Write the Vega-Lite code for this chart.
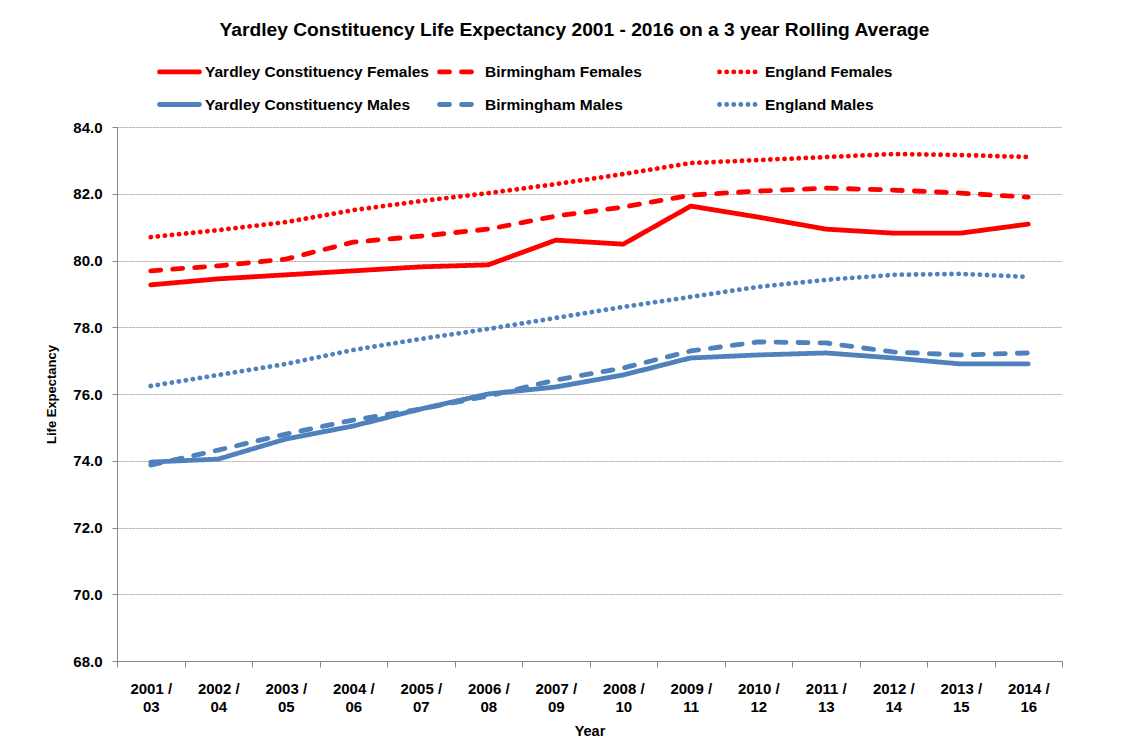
{
  "$schema": "https://vega.github.io/schema/vega-lite/v6.json",
  "width": 945,
  "height": 534,
  "autosize": {"type": "none"},
  "padding": {"left": 117, "top": 127, "right": 72, "bottom": 85},
  "background": "white",
  "title": {
    "text": "Yardley Constituency Life Expectancy 2001 - 2016 on a 3 year Rolling Average",
    "font": "Liberation Sans",
    "fontSize": 19.2,
    "fontWeight": "bold",
    "color": "black",
    "anchor": "middle",
    "frame": "group",
    "dx": -15,
    "offset": 9
  },
  "data": {
    "values": [
      {"period": "2001/03", "series": "Yardley Constituency Females", "value": 79.27},
      {"period": "2002/04", "series": "Yardley Constituency Females", "value": 79.45},
      {"period": "2003/05", "series": "Yardley Constituency Females", "value": 79.57},
      {"period": "2004/06", "series": "Yardley Constituency Females", "value": 79.69},
      {"period": "2005/07", "series": "Yardley Constituency Females", "value": 79.81},
      {"period": "2006/08", "series": "Yardley Constituency Females", "value": 79.87},
      {"period": "2007/09", "series": "Yardley Constituency Females", "value": 80.61},
      {"period": "2008/10", "series": "Yardley Constituency Females", "value": 80.49},
      {"period": "2009/11", "series": "Yardley Constituency Females", "value": 81.63},
      {"period": "2010/12", "series": "Yardley Constituency Females", "value": 81.30},
      {"period": "2011/13", "series": "Yardley Constituency Females", "value": 80.94},
      {"period": "2012/14", "series": "Yardley Constituency Females", "value": 80.82},
      {"period": "2013/15", "series": "Yardley Constituency Females", "value": 80.82},
      {"period": "2014/16", "series": "Yardley Constituency Females", "value": 81.09},

      {"period": "2001/03", "series": "Birmingham Females", "value": 79.69},
      {"period": "2002/04", "series": "Birmingham Females", "value": 79.84},
      {"period": "2003/05", "series": "Birmingham Females", "value": 80.04},
      {"period": "2004/06", "series": "Birmingham Females", "value": 80.55},
      {"period": "2005/07", "series": "Birmingham Females", "value": 80.73},
      {"period": "2006/08", "series": "Birmingham Females", "value": 80.94},
      {"period": "2007/09", "series": "Birmingham Females", "value": 81.33},
      {"period": "2008/10", "series": "Birmingham Females", "value": 81.60},
      {"period": "2009/11", "series": "Birmingham Females", "value": 81.96},
      {"period": "2010/12", "series": "Birmingham Females", "value": 82.08},
      {"period": "2011/13", "series": "Birmingham Females", "value": 82.17},
      {"period": "2012/14", "series": "Birmingham Females", "value": 82.11},
      {"period": "2013/15", "series": "Birmingham Females", "value": 82.02},
      {"period": "2014/16", "series": "Birmingham Females", "value": 81.90},

      {"period": "2001/03", "series": "England Females", "value": 80.70},
      {"period": "2002/04", "series": "England Females", "value": 80.91},
      {"period": "2003/05", "series": "England Females", "value": 81.15},
      {"period": "2004/06", "series": "England Females", "value": 81.51},
      {"period": "2005/07", "series": "England Females", "value": 81.78},
      {"period": "2006/08", "series": "England Females", "value": 82.02},
      {"period": "2007/09", "series": "England Females", "value": 82.29},
      {"period": "2008/10", "series": "England Females", "value": 82.59},
      {"period": "2009/11", "series": "England Females", "value": 82.92},
      {"period": "2010/12", "series": "England Females", "value": 83.01},
      {"period": "2011/13", "series": "England Females", "value": 83.10},
      {"period": "2012/14", "series": "England Females", "value": 83.19},
      {"period": "2013/15", "series": "England Females", "value": 83.16},
      {"period": "2014/16", "series": "England Females", "value": 83.10},

      {"period": "2001/03", "series": "Yardley Constituency Males", "value": 73.96},
      {"period": "2002/04", "series": "Yardley Constituency Males", "value": 74.05},
      {"period": "2003/05", "series": "Yardley Constituency Males", "value": 74.65},
      {"period": "2004/06", "series": "Yardley Constituency Males", "value": 75.04},
      {"period": "2005/07", "series": "Yardley Constituency Males", "value": 75.55},
      {"period": "2006/08", "series": "Yardley Constituency Males", "value": 76.00},
      {"period": "2007/09", "series": "Yardley Constituency Males", "value": 76.21},
      {"period": "2008/10", "series": "Yardley Constituency Males", "value": 76.57},
      {"period": "2009/11", "series": "Yardley Constituency Males", "value": 77.08},
      {"period": "2010/12", "series": "Yardley Constituency Males", "value": 77.17},
      {"period": "2011/13", "series": "Yardley Constituency Males", "value": 77.23},
      {"period": "2012/14", "series": "Yardley Constituency Males", "value": 77.08},
      {"period": "2013/15", "series": "Yardley Constituency Males", "value": 76.90},
      {"period": "2014/16", "series": "Yardley Constituency Males", "value": 76.90},

      {"period": "2001/03", "series": "Birmingham Males", "value": 73.87},
      {"period": "2002/04", "series": "Birmingham Males", "value": 74.32},
      {"period": "2003/05", "series": "Birmingham Males", "value": 74.80},
      {"period": "2004/06", "series": "Birmingham Males", "value": 75.22},
      {"period": "2005/07", "series": "Birmingham Males", "value": 75.55},
      {"period": "2006/08", "series": "Birmingham Males", "value": 75.94},
      {"period": "2007/09", "series": "Birmingham Males", "value": 76.42},
      {"period": "2008/10", "series": "Birmingham Males", "value": 76.78},
      {"period": "2009/11", "series": "Birmingham Males", "value": 77.29},
      {"period": "2010/12", "series": "Birmingham Males", "value": 77.56},
      {"period": "2011/13", "series": "Birmingham Males", "value": 77.53},
      {"period": "2012/14", "series": "Birmingham Males", "value": 77.26},
      {"period": "2013/15", "series": "Birmingham Males", "value": 77.17},
      {"period": "2014/16", "series": "Birmingham Males", "value": 77.23},

      {"period": "2001/03", "series": "England Males", "value": 76.24},
      {"period": "2002/04", "series": "England Males", "value": 76.57},
      {"period": "2003/05", "series": "England Males", "value": 76.90},
      {"period": "2004/06", "series": "England Males", "value": 77.32},
      {"period": "2005/07", "series": "England Males", "value": 77.65},
      {"period": "2006/08", "series": "England Males", "value": 77.95},
      {"period": "2007/09", "series": "England Males", "value": 78.28},
      {"period": "2008/10", "series": "England Males", "value": 78.61},
      {"period": "2009/11", "series": "England Males", "value": 78.91},
      {"period": "2010/12", "series": "England Males", "value": 79.21},
      {"period": "2011/13", "series": "England Males", "value": 79.42},
      {"period": "2012/14", "series": "England Males", "value": 79.57},
      {"period": "2013/15", "series": "England Males", "value": 79.60},
      {"period": "2014/16", "series": "England Males", "value": 79.51}
    ]
  },
  "mark": {"type": "line", "strokeCap": "round", "strokeJoin": "round"},
  "encoding": {
    "x": {
      "field": "period",
      "type": "ordinal",
      "sort": null,
      "scale": {"type": "band", "paddingInner": 0, "paddingOuter": 0},
      "axis": {
        "title": "Year",
        "labelAngle": 0,
        "tickBand": "extent",
        "grid": false,
        "labelExpr": "datum.value ? [substring(datum.value, 0, 4) + ' /', substring(datum.value, 5)] : ''",
        "labelLineHeight": 18,
        "labelPadding": 14,
        "tickSize": 6,
        "titlePadding": 10
      }
    },
    "y": {
      "field": "value",
      "type": "quantitative",
      "scale": {"domain": [68, 84], "nice": false, "zero": false},
      "axis": {
        "title": "Life Expectancy",
        "values": [68, 70, 72, 74, 76, 78, 80, 82, 84],
        "format": ".1f",
        "tickSize": 5,
        "labelPadding": 10,
        "titlePadding": 14
      }
    },
    "color": {
      "field": "series",
      "type": "nominal",
      "scale": {
        "domain": ["Yardley Constituency Females", "Yardley Constituency Males", "Birmingham Females", "Birmingham Males", "England Females", "England Males"],
        "range": ["#FF0000", "#4F81BD", "#FF0000", "#4F81BD", "#FF0000", "#4F81BD"]
      },
      "legend": {
        "title": null,
        "orient": "none",
        "legendX": 40,
        "legendY": -78,
        "columns": 3,
        "gridAlign": "all",
        "symbolType": "stroke",
        "symbolSize": 1600,
        "symbolStrokeWidth": 4,
        "labelOffset": 3,
        "columnPadding": 0,
        "rowPadding": -12,
        "labelFontSize": 15.5,
        "labelFont": "Liberation Sans",
        "labelFontWeight": "bold",
        "labelColor": "black",
        "labelLimit": 400,
        "encode": {"symbols": {"update": {"strokeCap": {"value": "round"}}}}
      }
    },
    "strokeDash": {
      "field": "series",
      "type": "nominal",
      "scale": {
        "domain": ["Yardley Constituency Females", "Yardley Constituency Males", "Birmingham Females", "Birmingham Males", "England Females", "England Males"],
        "range": [[1, 0], [1, 0], [10, 12], [10, 12], [0.1, 7], [0.1, 7]]
      }
    },
    "strokeWidth": {
      "field": "series",
      "type": "nominal",
      "scale": {
        "domain": ["Yardley Constituency Females", "Yardley Constituency Males", "Birmingham Females", "Birmingham Males", "England Females", "England Males"],
        "range": [4.8, 4.8, 4.5, 4.5, 3.5, 3.5]
      },
      "legend": null
    }
  },
  "config": {
    "view": {"stroke": null},
    "font": "Liberation Sans",
    "axis": {
      "labelFont": "Liberation Sans",
      "labelFontSize": 15,
      "labelFontWeight": "bold",
      "labelColor": "black",
      "titleFont": "Liberation Sans",
      "titleFontSize": 14.5,
      "titleFontWeight": "bold",
      "titleColor": "black",
      "domainColor": "#868686",
      "tickColor": "#868686",
      "gridColor": "#a6a6a6",
      "gridDash": [2, 1],
      "gridWidth": 1
    },
    "axisY": {"titleFontSize": 13}
  }
}
